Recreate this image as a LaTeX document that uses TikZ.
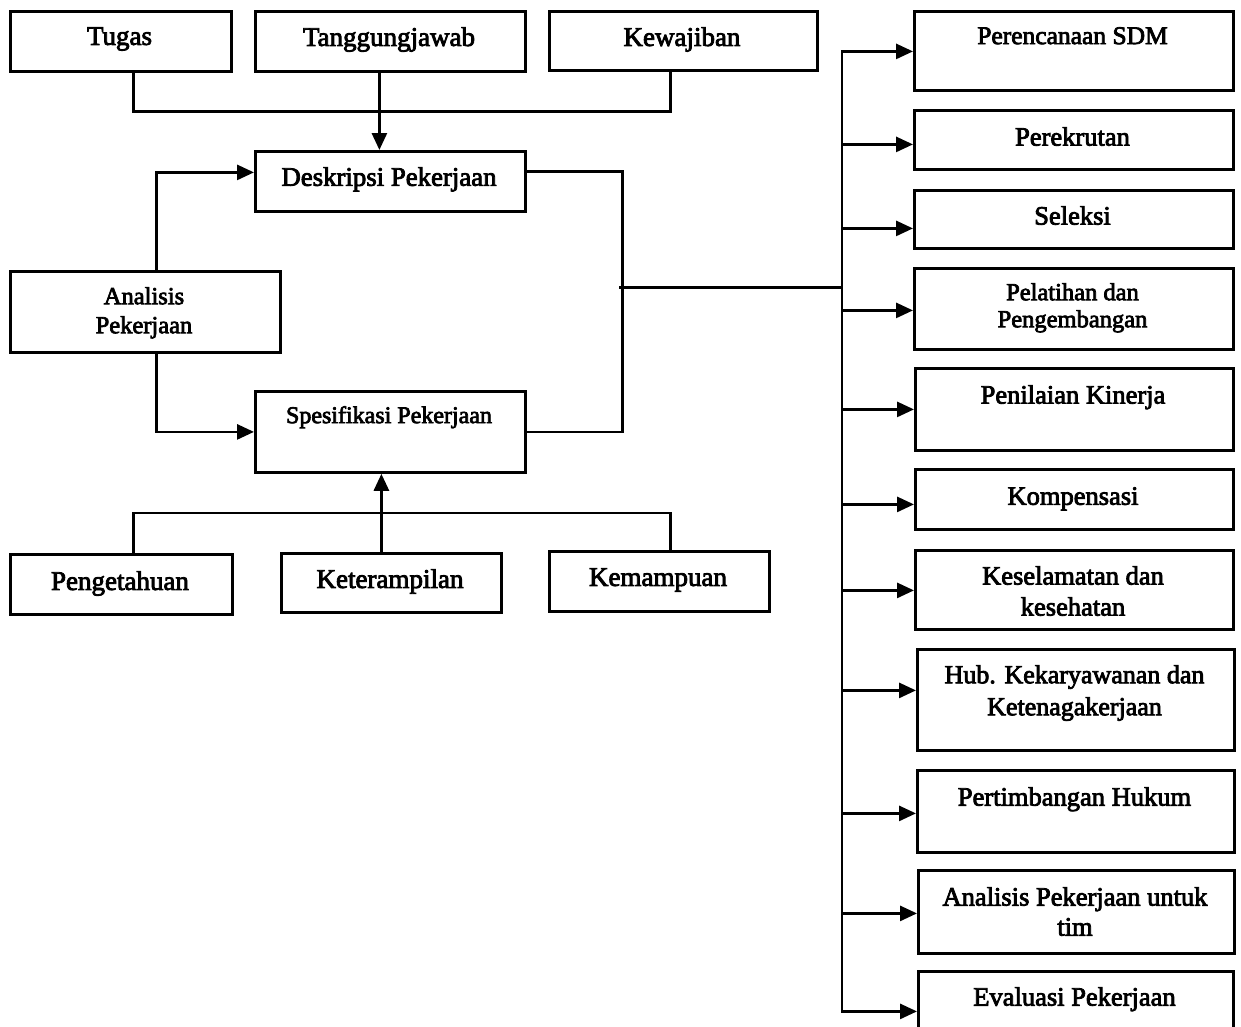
\documentclass[tikz,border=0pt]{standalone}
\usepackage{fontspec}
\setmainfont{Liberation Serif}[BoldFont={Liberation Serif}, BoldFeatures={FakeBold=3}]
\usetikzlibrary{arrows.meta,calc}

% box with its label: name, x1, y1, x2, y2, top of the text, text, extra text options
\newcommand{\mkbox}[8]{%
  \node[box, minimum width={(#4-#2)*1pt}, minimum height={(#5-#3)*1pt}, anchor=north west] (#1) at (#2,#3) {};
  \node[txt, #8, anchor=north] (#1-t) at ({(#2+#4)/2},#6) {#7};
}

\begin{document}
\begin{tikzpicture}[x=1pt,y=-1pt,
  box/.style={draw, line width=2.8pt, inner sep=0pt, rectangle},
  txt/.style={inner sep=0pt, align=center, font=\fontsize{26.5}{31}\selectfont\bfseries},
  link/.style={line width=2.8pt, line cap=rect},
  arr/.style={line width=2.8pt, -{Triangle[length=17pt,width=15pt]}}]
\useasboundingbox (0,0) rectangle (1241,1026);
\clip (0,0) rectangle (1241,1026);

% left part: job analysis
\mkbox{tugas}{9}{10}{230}{70}{27}{Tugas}{font=\fontsize{27}{31}\selectfont\bfseries}
\mkbox{tj}{254}{10}{524}{70}{27}{Tanggungjawab}{font=\fontsize{27}{31}\selectfont\bfseries}
\mkbox{kew}{548}{10}{816}{69}{27}{Kewajiban}{font=\fontsize{27}{31}\selectfont\bfseries}
\mkbox{desk}{254}{150}{524}{210}{167}{Deskripsi Pekerjaan}{font=\fontsize{26.8}{31}\selectfont\bfseries}
\mkbox{an}{9}{270}{279}{351}{287}{Analisis\\Pekerjaan}{font=\fontsize{24.5}{29}\selectfont\bfseries}
\mkbox{spes}{254}{390}{524}{471}{406}{Spesifikasi Pekerjaan}{font=\fontsize{24}{28}\selectfont\bfseries}
\mkbox{peng}{9}{553}{231}{613}{571}{Pengetahuan}{font=\fontsize{27}{31}\selectfont\bfseries}
\mkbox{ket}{280}{552}{500}{611}{569}{Keterampilan}{font=\fontsize{27}{31}\selectfont\bfseries}
\mkbox{kem}{548}{550}{768}{610}{568}{Kemampuan}{font=\fontsize{27}{31}\selectfont\bfseries}

% right column: HR activities
\mkbox{r1}{913}{10}{1232}{89}{27}{Perencanaan SDM}{font=\fontsize{25.5}{31}\selectfont\bfseries}
\mkbox{r2}{913}{109}{1232}{168}{127}{Perekrutan}{}
\mkbox{r3}{913}{189}{1232}{247}{206}{Seleksi}{}
\mkbox{r4}{913}{267}{1232}{348}{283}{Pelatihan dan\\Pengembangan}{font=\fontsize{24.5}{27}\selectfont\bfseries}
\mkbox{r5}{914}{367}{1232}{449}{385}{Penilaian Kinerja}{}
\mkbox{r6}{914}{468}{1232}{528}{487}{Kompensasi}{}
\mkbox{r7}{914}{549}{1232}{628}{566}{Keselamatan dan\\kesehatan}{font=\fontsize{26.5}{31}\selectfont\bfseries}
\mkbox{r8}{916}{648}{1233}{749}{665}{Hub. Kekaryawanan dan\\Ketenagakerjaan}{font=\fontsize{26}{32}\selectfont\bfseries}
\mkbox{r9}{916}{769}{1233}{851}{787}{Pertimbangan Hukum}{}
\mkbox{r10}{917}{869}{1233}{952}{887}{Analisis Pekerjaan untuk\\tim}{font=\fontsize{26.5}{30}\selectfont\bfseries}
\mkbox{r11}{917}{970}{1232}{1060}{987}{Evaluasi Pekerjaan}{}

% inputs of the job description
\draw[link] ([xshift=12.5pt]tugas.south) -- ++(0,39) -| ([xshift=-13pt]kew.south);
\draw[arr] ([xshift=-11pt]tj.south) -- ([xshift=-11pt]desk.north);

% job analysis feeds description and specification
\draw[arr] ([xshift=11pt]an.north) |- ([yshift=9pt]desk.west);
\draw[arr] ([xshift=11pt]an.south) |- (spes.west);

% inputs of the job specification
\draw[link] ([xshift=12pt]peng.north) -- ++(0,-40) -| ([xshift=11pt]kem.north);
\draw[arr] ([xshift=-10pt]ket.north) -- ([xshift=-9pt]spes.south);

% description and specification join and go to the bus
\draw[link] ([yshift=10pt]desk.east) -- ++(96,0) |- (spes.east);
\coordinate (split) at (620,287.5);
\coordinate (bus) at (842,0);

% entry points on the activity boxes
\foreach \n/\d in {r1/0.5, r2/4.5, r3/9, r4/1.5, r5/0, r6/5, r7/0.5, r8/-9.5, r9/2, r10/1.5, r11/-5}{
  \coordinate (\n-in) at ($(\n.west)+(0,\d)$);
}
\draw[link] (split) -- (bus |- split);
\draw[link] (bus |- r1-in) -- (bus |- r11-in);
\foreach \n in {r1,r2,r3,r4,r5,r6,r7,r8,r9,r10,r11}{
  \draw[arr] (bus |- \n-in) -- (\n-in);
}
\end{tikzpicture}
\end{document}
